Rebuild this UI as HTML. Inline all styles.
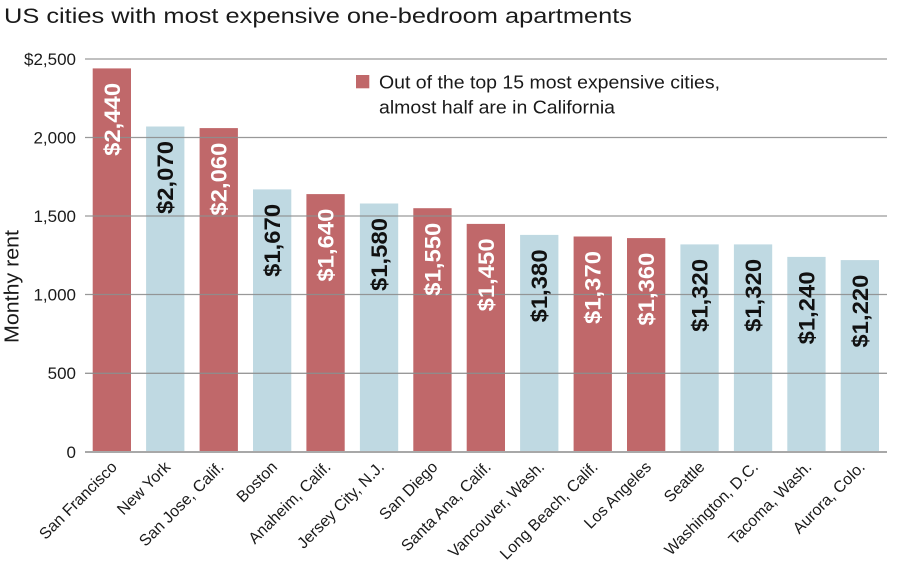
<!DOCTYPE html>
<html>
<head>
<meta charset="utf-8">
<style>
  html, body { margin: 0; padding: 0; background: #ffffff; }
  body { width: 900px; height: 569px; overflow: hidden; }
  svg { display: block; font-family: "Liberation Sans", "DejaVu Sans", sans-serif; }
</style>
</head>
<body>
<svg width="900" height="569" viewBox="0 0 900 569" xmlns="http://www.w3.org/2000/svg">
  <rect x="0" y="0" width="900" height="569" fill="#ffffff"/>

  <!-- Title -->
  <text x="4" y="23" font-size="21.5" fill="#1a1a1a" textLength="628" lengthAdjust="spacingAndGlyphs">US cities with most expensive one-bedroom apartments</text>

  <!-- Y axis title -->
  <text transform="translate(18.5,286.5) rotate(-90)" text-anchor="middle" font-size="20" fill="#1a1a1a" textLength="113" lengthAdjust="spacingAndGlyphs">Monthy rent</text>

  <!-- Y tick labels -->
  <g font-size="17" fill="#1a1a1a" text-anchor="end">
    <text x="76" y="65">$2,500</text>
    <text x="76" y="143.5">2,000</text>
    <text x="76" y="222">1,500</text>
    <text x="76" y="300.5">1,000</text>
    <text x="76" y="379">500</text>
    <text x="76" y="458">0</text>
  </g>

  <!-- Bars -->
  <g>
    <rect x="92.7"  y="68.4"  width="38.3" height="383.3" fill="#c0686a"/>
    <rect x="146.1" y="126.5" width="38.3" height="325.2" fill="#bfd9e2"/>
    <rect x="199.6" y="128.1" width="38.3" height="323.6" fill="#c0686a"/>
    <rect x="253.0" y="189.4" width="38.3" height="262.3" fill="#bfd9e2"/>
    <rect x="306.4" y="194.1" width="38.3" height="257.6" fill="#c0686a"/>
    <rect x="359.9" y="203.5" width="38.3" height="248.2" fill="#bfd9e2"/>
    <rect x="413.3" y="208.2" width="38.3" height="243.5" fill="#c0686a"/>
    <rect x="466.7" y="223.9" width="38.3" height="227.8" fill="#c0686a"/>
    <rect x="520.1" y="234.9" width="38.3" height="216.8" fill="#bfd9e2"/>
    <rect x="573.6" y="236.5" width="38.3" height="215.2" fill="#c0686a"/>
    <rect x="627.0" y="238.1" width="38.3" height="213.6" fill="#c0686a"/>
    <rect x="680.4" y="244.4" width="38.3" height="207.3" fill="#bfd9e2"/>
    <rect x="733.9" y="244.4" width="38.3" height="207.3" fill="#bfd9e2"/>
    <rect x="787.3" y="256.9" width="38.3" height="194.8" fill="#bfd9e2"/>
    <rect x="840.7" y="260.1" width="38.3" height="191.6" fill="#bfd9e2"/>
  </g>

  <!-- Gridlines (drawn over bars) -->
  <g stroke="#8e8e8e" stroke-width="1.3" opacity="0.9">
    <line x1="85" y1="59" x2="887" y2="59"/>
    <line x1="85" y1="137.5" x2="887" y2="137.5"/>
    <line x1="85" y1="216" x2="887" y2="216"/>
    <line x1="85" y1="294.5" x2="887" y2="294.5"/>
    <line x1="85" y1="373.3" x2="887" y2="373.3"/>
  </g>
  <line x1="85" y1="452" x2="887" y2="452" stroke="#a8a8a8" stroke-width="2"/>

  <!-- Legend -->
  <rect x="356" y="75" width="13.3" height="13.3" fill="#c0686a"/>
  <text x="379" y="88.3" font-size="18" fill="#1a1a1a" textLength="341" lengthAdjust="spacingAndGlyphs">Out of the top 15 most expensive cities,</text>
  <text x="379" y="113.3" font-size="18" fill="#1a1a1a" textLength="236" lengthAdjust="spacingAndGlyphs">almost half are in California</text>

  <!-- Bar value labels -->
  <g font-size="22" font-weight="bold" text-anchor="end">
    <text transform="translate(119.8,82.9) rotate(-90)" fill="#ffffff" textLength="73" lengthAdjust="spacingAndGlyphs">$2,440</text>
    <text transform="translate(173.2,141.0) rotate(-90)" fill="#111111" textLength="73" lengthAdjust="spacingAndGlyphs">$2,070</text>
    <text transform="translate(226.7,142.6) rotate(-90)" fill="#ffffff" textLength="73" lengthAdjust="spacingAndGlyphs">$2,060</text>
    <text transform="translate(280.1,203.9) rotate(-90)" fill="#111111" textLength="73" lengthAdjust="spacingAndGlyphs">$1,670</text>
    <text transform="translate(333.5,208.6) rotate(-90)" fill="#ffffff" textLength="73" lengthAdjust="spacingAndGlyphs">$1,640</text>
    <text transform="translate(387.0,218.0) rotate(-90)" fill="#111111" textLength="73" lengthAdjust="spacingAndGlyphs">$1,580</text>
    <text transform="translate(440.4,222.7) rotate(-90)" fill="#ffffff" textLength="73" lengthAdjust="spacingAndGlyphs">$1,550</text>
    <text transform="translate(493.8,238.4) rotate(-90)" fill="#ffffff" textLength="73" lengthAdjust="spacingAndGlyphs">$1,450</text>
    <text transform="translate(547.2,249.4) rotate(-90)" fill="#111111" textLength="73" lengthAdjust="spacingAndGlyphs">$1,380</text>
    <text transform="translate(600.7,251.0) rotate(-90)" fill="#ffffff" textLength="73" lengthAdjust="spacingAndGlyphs">$1,370</text>
    <text transform="translate(654.1,252.6) rotate(-90)" fill="#ffffff" textLength="73" lengthAdjust="spacingAndGlyphs">$1,360</text>
    <text transform="translate(707.5,258.9) rotate(-90)" fill="#111111" textLength="73" lengthAdjust="spacingAndGlyphs">$1,320</text>
    <text transform="translate(761.0,258.9) rotate(-90)" fill="#111111" textLength="73" lengthAdjust="spacingAndGlyphs">$1,320</text>
    <text transform="translate(814.4,271.4) rotate(-90)" fill="#111111" textLength="73" lengthAdjust="spacingAndGlyphs">$1,240</text>
    <text transform="translate(867.8,274.6) rotate(-90)" fill="#111111" textLength="73" lengthAdjust="spacingAndGlyphs">$1,220</text>
  </g>

  <!-- X axis labels -->
  <g font-size="16" fill="#1a1a1a" text-anchor="end">
    <text transform="translate(117.9,468) rotate(-45)">San Francisco</text>
    <text transform="translate(171.3,468) rotate(-45)">New York</text>
    <text transform="translate(224.8,468) rotate(-45)">San Jose, Calif.</text>
    <text transform="translate(278.2,468) rotate(-45)">Boston</text>
    <text transform="translate(331.6,468) rotate(-45)">Anaheim, Calif.</text>
    <text transform="translate(385.1,468) rotate(-45)">Jersey City, N.J.</text>
    <text transform="translate(438.5,468) rotate(-45)">San Diego</text>
    <text transform="translate(491.9,468) rotate(-45)">Santa Ana, Calif.</text>
    <text transform="translate(545.3,468) rotate(-45)">Vancouver, Wash.</text>
    <text transform="translate(598.8,468) rotate(-45)">Long Beach, Calif.</text>
    <text transform="translate(652.2,468) rotate(-45)">Los Angeles</text>
    <text transform="translate(705.6,468) rotate(-45)">Seattle</text>
    <text transform="translate(759.1,468) rotate(-45)">Washington, D.C.</text>
    <text transform="translate(812.5,468) rotate(-45)">Tacoma, Wash.</text>
    <text transform="translate(865.9,468) rotate(-45)">Aurora, Colo.</text>
  </g>
</svg>
</body>
</html>
